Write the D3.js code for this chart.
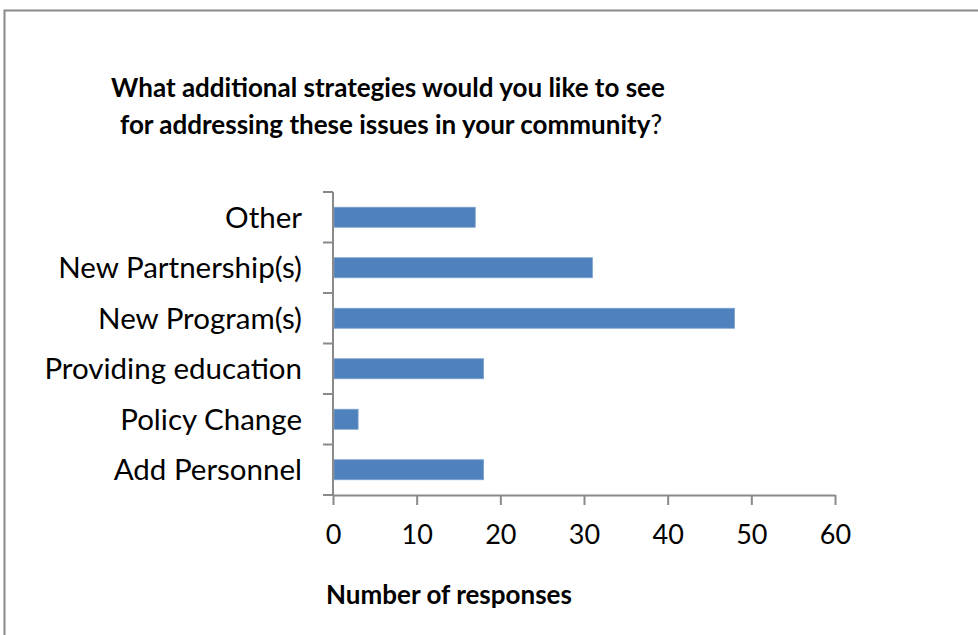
<!DOCTYPE html>
<html>
<head>
<meta charset="utf-8">
<script src="https://cdn.jsdelivr.net/npm/d3@7"></script>
<style>
  html, body { margin: 0; padding: 0; background: #fff; }
  svg { display: block; }
  text { font-family: Lato, "Open Sans", sans-serif; fill: #000; }
</style>
</head>
<body>
<svg id="chart" width="978" height="635"></svg>
<script>
// Survey responses per strategy (top to bottom as listed)
const categories = ["Other", "New Partnership(s)", "New Program(s)", "Providing education", "Policy Change", "Add Personnel"];
const responses = [17, 31, 48, 18, 3, 18];
const xTicks = [0, 10, 20, 30, 40, 50, 60];
const titleLines = ["What additional strategies would you like to see", "for addressing these issues in your community"];
const xTitle = "Number of responses";

const svg = d3.select("#chart");

// Outer chart frame
svg.append("rect")
  .attr("x", 4.5).attr("y", 10.5)
  .attr("width", 1000).attr("height", 700)
  .attr("fill", "none").attr("stroke", "#8a8a8a").attr("stroke-width", 2);

const plot = { left: 333, right: 835, top: 192, bottom: 495 };

const x = d3.scaleLinear().domain([0, 60]).range([plot.left, plot.right]);
const yBand = d3.scaleBand().domain(categories).range([plot.top, plot.bottom]);

// Bars
svg.append("g").selectAll("rect")
  .data(categories)
  .join("rect")
  .attr("x", x(0) + 1)
  .attr("y", d => yBand(d) + yBand.bandwidth() / 2 - 10)
  .attr("width", (d, i) => x(responses[i]) - x(0) - 1)
  .attr("height", 20)
  .attr("fill", "#4f81bd")
  .attr("stroke", "#7aa0d0")
  .attr("stroke-width", 0.8);

const axisColor = "#8a8a8a";

// X axis
const xAxis = svg.append("g")
  .attr("transform", `translate(0,${plot.bottom})`)
  .call(d3.axisBottom(x).tickValues(xTicks).tickSize(10).tickSizeOuter(0).tickPadding(20));
xAxis.select(".domain").attr("stroke", axisColor).attr("stroke-width", 2);
xAxis.selectAll(".tick line").attr("stroke", axisColor).attr("stroke-width", 2);
xAxis.selectAll(".tick text")
  .attr("font-size", 27).attr("font-family", "Lato, sans-serif").attr("fill", "#000");

// Y axis: ticks sit on band boundaries
const yAxisG = svg.append("g").attr("transform", `translate(${plot.left},0)`);
yAxisG.append("line")
  .attr("x1", 0).attr("x2", 0).attr("y1", plot.top).attr("y2", plot.bottom)
  .attr("stroke", axisColor).attr("stroke-width", 2);
const boundaries = categories.map(c => yBand(c)).concat([plot.bottom]);
yAxisG.selectAll("line.tick")
  .data(boundaries)
  .join("line")
  .attr("class", "tick")
  .attr("x1", -10).attr("x2", 0)
  .attr("y1", d => d).attr("y2", d => d)
  .attr("stroke", axisColor).attr("stroke-width", 2);
yAxisG.selectAll("text")
  .data(categories)
  .join("text")
  .attr("x", -31)
  .attr("y", d => yBand(d) + yBand.bandwidth() / 2)
  .attr("dy", "0.36em")
  .attr("text-anchor", "end")
  .attr("font-size", 29.5)
  .text(d => d);

// Title
const title = svg.append("text")
  .attr("text-anchor", "middle")
  .attr("font-size", 26)
  .attr("font-weight", "bold");
title.append("tspan").attr("x", 388).attr("y", 97).text(titleLines[0]);
const t2 = title.append("tspan").attr("x", 391).attr("y", 134);
t2.append("tspan").text(titleLines[1]);
t2.append("tspan").attr("font-weight", "normal").text("?");

// X axis title
svg.append("text")
  .attr("x", 449).attr("y", 604)
  .attr("text-anchor", "middle")
  .attr("font-size", 26)
  .attr("font-weight", "bold")
  .text(xTitle);
</script>
</body>
</html>
